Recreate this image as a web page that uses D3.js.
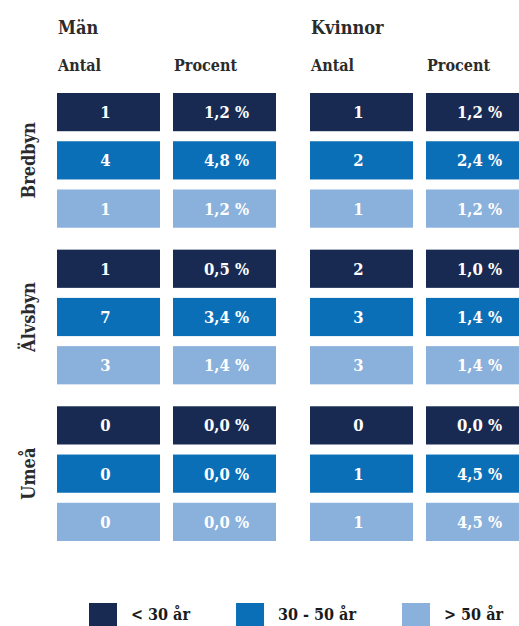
<!DOCTYPE html>
<html>
<head>
<meta charset="utf-8">
<script src="https://cdn.jsdelivr.net/npm/d3@7"></script>
<style>
  body { margin: 0; background: #fff; }
  text { font-family: "DejaVu Serif Condensed", "DejaVu Serif", serif; font-weight: bold; }
</style>
</head>
<body>
<script>
var regions = ["Bredbyn", "Älvsbyn", "Umeå"];
var ageGroups = ["< 30 år", "30 - 50 år", "> 50 år"];
var genders = ["Män", "Kvinnor"];
var measures = ["Antal", "Procent"];

// rows per region: < 30, 30-50, > 50
var menCount = [[1, 4, 1], [1, 7, 3], [0, 0, 0]];
var menPct = [[1.2, 4.8, 1.2], [0.5, 3.4, 1.4], [0.0, 0.0, 0.0]];
var womenCount = [[1, 2, 1], [2, 3, 3], [0, 1, 1]];
var womenPct = [[1.2, 2.4, 1.2], [1.0, 1.4, 1.4], [0.0, 4.5, 4.5]];

var colors = ["#192a52", "#0b6fb8", "#8ab0dc"];

var width = 519, height = 626;

var svg = d3.select("body")
            .append("svg")
            .attr("width", width)
            .attr("height", height);

var xGender = d3.scaleBand()
                .domain(genders)
                .range([57, 57 + 2 * 253]);

var xMeasure = d3.scaleBand()
                 .domain(measures)
                 .range([0, 219])
                 .paddingInner(0.112);

var yRegion = d3.scaleBand()
                .domain(regions)
                .range([93, 541])
                .paddingInner(0.14);

var yAge = d3.scaleBand()
             .domain(ageGroups)
             .range([0, yRegion.bandwidth()])
             .paddingInner(0.208);

var color = d3.scaleOrdinal().domain(ageGroups).range(colors);

var fmtPct = function(v) { return d3.format(".1f")(v).replace(".", ",") + " %"; };

// build cells
var cells = [];
regions.forEach(function(r, ri) {
    ageGroups.forEach(function(a, ai) {
        cells.push({region: r, age: a, gender: "Män", measure: "Antal", label: String(menCount[ri][ai])});
        cells.push({region: r, age: a, gender: "Män", measure: "Procent", label: fmtPct(menPct[ri][ai])});
        cells.push({region: r, age: a, gender: "Kvinnor", measure: "Antal", label: String(womenCount[ri][ai])});
        cells.push({region: r, age: a, gender: "Kvinnor", measure: "Procent", label: fmtPct(womenPct[ri][ai])});
    });
});

var cell = svg.selectAll(".cell")
              .data(cells)
              .enter().append("g")
              .attr("class", "cell")
              .attr("transform", function(d) {
                  return "translate(" + (xGender(d.gender) + xMeasure(d.measure)) + "," +
                         (yRegion(d.region) + yAge(d.age)) + ")";
              });

cell.append("rect")
    .attr("width", xMeasure.bandwidth())
    .attr("height", yAge.bandwidth())
    .attr("fill", function(d) { return color(d.age); });

cell.append("text")
    .attr("x", function(d) { return xMeasure.bandwidth() / 2 + (d.measure == "Antal" ? -3 : 2); })
    .attr("y", yAge.bandwidth() / 2)
    .attr("dy", "0.36em")
    .attr("text-anchor", "middle")
    .attr("fill", "#fff")
    .style("font-size", "16.5px")
    .text(function(d) { return d.label; });

// headers
svg.selectAll(".gender")
   .data(genders)
   .enter().append("text")
   .attr("class", "gender")
   .attr("x", function(d) { return xGender(d) + 1; })
   .attr("y", 34)
   .attr("fill", "#2b2b2b")
   .style("font-size", "18px")
   .text(function(d) { return d; });

genders.forEach(function(g) {
    svg.selectAll(".measure-" + g)
       .data(measures)
       .enter().append("text")
       .attr("x", function(d) { return xGender(g) + xMeasure(d) + 1; })
       .attr("y", 71)
       .attr("fill", "#2b2b2b")
       .style("font-size", "16px")
       .text(function(d) { return d; });
});

// region labels
svg.selectAll(".region")
   .data(regions)
   .enter().append("text")
   .attr("class", "region")
   .attr("transform", function(d) {
       return "translate(35," + (yRegion(d) + yRegion.bandwidth() / 2) + ") rotate(-90)";
   })
   .attr("text-anchor", "middle")
   .attr("fill", "#2b2b2b")
   .style("font-size", "18px")
   .text(function(d) { return d; });

// legend
var legend = svg.append("g").attr("transform", "translate(89,603)");
var lx = 0;
ageGroups.forEach(function(a) {
    var item = legend.append("g").attr("transform", "translate(" + lx + ",0)");
    item.append("rect")
        .attr("width", 28)
        .attr("height", 28)
        .attr("fill", color(a));
    var t = item.append("text")
                .attr("x", 42)
                .attr("y", 17)
                .attr("fill", "#1a1a1a")
                .style("font-size", "16px")
                .text(a);
    lx += 42 + t.node().getComputedTextLength() + 46;
});
</script>
</body>
</html>
